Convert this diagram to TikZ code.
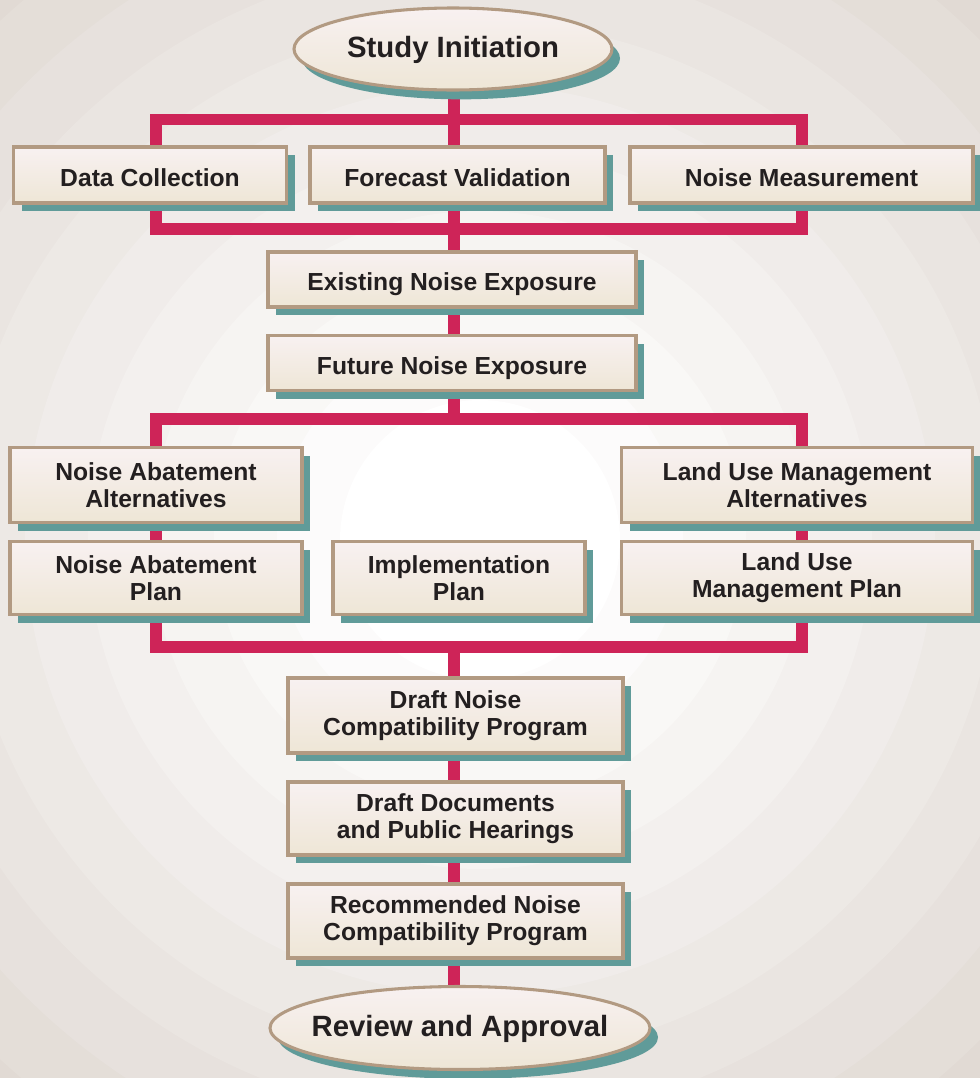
\documentclass[tikz,border=0pt]{standalone}
\usepackage{fontspec}
\setmainfont{Liberation Sans}
\usetikzlibrary{shapes.geometric,shadows}
\definecolor{bgedge}{RGB}{225,218,212}
\definecolor{crim}{RGB}{206,36,88}
\definecolor{tealsh}{RGB}{96,155,153}
\definecolor{boxline}{RGB}{178,154,130}
\definecolor{filltop}{RGB}{248,241,241}
\definecolor{fillbot}{RGB}{238,230,214}
\definecolor{ink}{RGB}{35,31,32}
\newcommand\lowtxt[1]{\raisebox{-8.6pt}[0pt][0pt]{#1}}
\begin{document}
\begin{tikzpicture}[x=0.75pt,y=-0.75pt,
  sz/.style 2 args={minimum width=#1*0.75pt, minimum height=#2*0.75pt},
  boxbase/.style={rectangle, draw=boxline, line width=2.3pt, top color=filltop, bottom color=fillbot,
    inner sep=0pt, text=ink, font=\fontsize{18.5}{20.3}\selectfont\bfseries,
    drop shadow={shadow xshift=6pt, shadow yshift=-6pt, fill=tealsh, opacity=1}},
  box/.style={boxbase, align=center},
  onebox/.style={boxbase},
  oval/.style={ellipse, draw=boxline, line width=2.3pt, top color=filltop, bottom color=fillbot,
    inner sep=0pt, align=center, text=ink, font=\fontsize{22}{24}\selectfont\bfseries,
    text depth=0.35em,
    drop shadow={shadow xshift=6pt, shadow yshift=-7pt, fill=tealsh, opacity=1}},
  redline/.style={draw=crim, line width=8.6pt}]
% background
\useasboundingbox (0,0) rectangle (980,1078);
\fill[bgedge] (0,0) rectangle (980,1078);
\begin{scope}
  \clip (0,0) rectangle (980,1078);
  \foreach \i in {0,...,10} {
    \pgfmathtruncatemacro\p{\i*10}
    \pgfmathsetmacro\r{770-\i*63}
    \fill[white!\p!bgedge] (480,540) circle[radius=\r];
  }
\end{scope}
% connector coordinates
\coordinate (f1a) at (156,119.5);
\coordinate (f1b) at (802,229);
\coordinate (f2a) at (156,419);
\coordinate (f2b) at (802,647);
\coordinate (c0) at (454,49);
\coordinate (c1) at (454,419);
\coordinate (c2) at (454,647);
\coordinate (c3) at (454,1028);
% red connectors
\draw[redline] (f1a) rectangle (f1b);
\draw[redline] (f2a) rectangle (f2b);
\draw[redline] (c0) -- (c1);
\draw[redline] (c2) -- (c3);
% nodes
\node[oval, sz={318}{82}] (start) at (453,49) {\makebox[0pt]{Study Initiation}};
\node[onebox, sz={273}{56}] (dc) at (150,175) {\lowtxt{Data Collection}};
\node[onebox, sz={295}{56}] (fv) at (457.5,175) {\lowtxt{Forecast Validation}};
\node[onebox, sz={343}{56}] (nm) at (801.5,175) {\lowtxt{Noise Measurement}};
\node[onebox, sz={368}{55}] (ene) at (452,279.5) {\lowtxt{Existing Noise Exposure}};
\node[onebox, sz={368}{55}] (fne) at (452,363) {\lowtxt{Future Noise Exposure}};
\node[box, sz={292}{75}] (naa) at (156,485) {Noise Abatement\\Alternatives};
\node[box, sz={292}{73}] (nap) at (156,578) {Noise Abatement\\Plan};
\node[box, sz={252}{73}] (ip) at (459,578) {Implementation\\Plan};
\node[box, sz={351}{75}] (lua) at (797,485) {Land Use Management\\Alternatives};
\node[box, sz={351}{73}] (lup) at (797,578) {Land Use\\Management Plan};
\node[box, sz={335}{75}] (dncp) at (455.5,715.5) {Draft Noise\\Compatibility Program};
\node[box, sz={335}{73}] (ddph) at (455.5,818.5) {Draft Documents\\and Public Hearings};
\node[box, sz={335}{74}] (rncp) at (455.5,921) {Recommended Noise\\Compatibility Program};
\node[oval, sz={380}{83}] (review) at (460,1028) {\makebox[0pt]{Review and Approval}};
\end{tikzpicture}
\end{document}
